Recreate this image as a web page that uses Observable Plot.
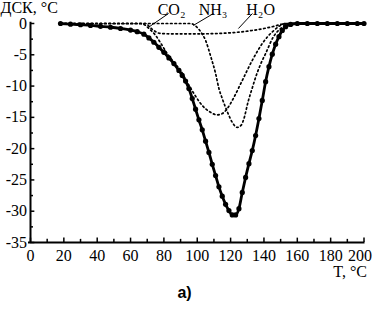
<!DOCTYPE html>
<html><head><meta charset="utf-8">
<script src="https://cdn.jsdelivr.net/npm/d3@7"></script>
<script src="https://cdn.jsdelivr.net/npm/@observablehq/plot@0.6"></script>
<style>body{margin:0;background:#fff}</style>
</head><body><div id="chart"></div>
<script>
// Measured DSC curve
const mainT   = [18,24,30,36,42,48,54,60,64,68,71,74,77,80,83,86,89,91,93,95,97,99,101,103,105,107,109,111,113,115,117,119,121,123,125,127,129,131,133,135,137,139,141,143,145,147,149,151,153,156,160,166,172,178,184,190,196,200];
const mainDSC = [0,-0.1,-0.2,-0.3,-0.45,-0.6,-0.8,-1.05,-1.3,-1.7,-2.3,-3.0,-3.8,-4.6,-5.5,-6.4,-7.5,-8.3,-9.2,-10.4,-12.0,-13.7,-15.4,-17.0,-18.8,-20.6,-22.5,-24.3,-26.1,-27.6,-28.9,-29.9,-30.6,-30.6,-29.6,-27.0,-24.6,-22.4,-20.3,-17.9,-15.2,-12.3,-9.3,-6.9,-4.9,-3.3,-2.1,-1.1,-0.5,-0.15,0,0,0,0,0,0,0,0];
// Components
const co2T   = [18,40,60,66,69,71,75,78,82,86,90,94,98,103,108,112,115,118,122,127,133,139,146,150,153,200];
const co2DSC = [0,0,0,0,-0.3,-0.8,-1.9,-3.1,-4.8,-6.2,-7.5,-9.4,-11.2,-13.1,-14.2,-14.6,-14.4,-13.6,-11.8,-9.1,-5.9,-3.2,-1.1,-0.3,0,0];
const nh3T   = [18,60,96,99,102,105,108,111,113,115,118.5,121,124,126.5,128,130.5,133,135,138,141,145.5,151,155,200];
const nh3DSC = [0,0,0,-0.4,-1.3,-2.7,-5.2,-8.0,-10.4,-12.0,-14.4,-15.8,-16.6,-16.2,-15.2,-12.5,-10.3,-8.6,-6.5,-4.8,-2.2,-0.6,0,0];
const h2oT   = [18,60,69,72,75,78,85,100,112,122,132,140,146,151,154,200];
const h2oDSC = [0,0,0,-0.7,-1.3,-1.6,-1.65,-1.65,-1.6,-1.45,-1.15,-0.8,-0.45,-0.1,0,0];
const componentNames = ["CO₂","NH₃","H₂O"];
// Axis ticks
const xTicksMajor = [0,20,40,60,80,100,120,140,160,180,200];
const xTicksMinor = [10,30,50,70,90,110,130,150,170,190];
const yTicksMajor = [0,-5,-10,-15,-20,-25,-30,-35];
const yTicksMinor = [-2.5,-7.5,-12.5,-17.5,-22.5,-27.5,-32.5];
const yTitle = "ДСК, °C";
const xTitle = "T, °C";
const caption = "а)";

const main = mainT.map((t,i)=>({T:t, v:mainDSC[i]}));
const comps = [
  ...co2T.map((t,i)=>({T:t, v:co2DSC[i], name:componentNames[0]})),
  ...nh3T.map((t,i)=>({T:t, v:nh3DSC[i], name:componentNames[1]})),
  ...h2oT.map((t,i)=>({T:t, v:h2oDSC[i], name:componentNames[2]}))
];
// annotation label anchors and pointers (data coords)
const labels = [
  {name:componentNames[0], T:84.6, v:2.2, T1:82.8, v1:1.6, T2:70.8, v2:-0.6},
  {name:componentNames[1], T:109.5, v:2.2, T1:109.7, v1:1.6, T2:97.7, v2:-0.3},
  {name:componentNames[2], T:138, v:2.2, T1:133.1, v1:1.6, T2:124.7, v2:-0.8}
];
const xLabelsInner = xTicksMajor.slice(0, -1);
const xLabelsLast = xTicksMajor.slice(-1);

const serif = "Liberation Serif, Times New Roman, serif";
const chart = Plot.plot({
  width: 378, height: 309,
  marginLeft: 30, marginRight: 14.5, marginTop: 0, marginBottom: 67,
  x: {domain: [0,200], axis: null},
  y: {domain: [-35, 3.676], axis: null},
  style: {fontFamily: serif, color: "black", background: "white"},
  marks: [
    Plot.ruleX([0], {y1: -35, y2: 0.2, stroke: "black", strokeWidth: 2}),
    Plot.ruleY([-35], {x1: -1.2, x2: 200.6, stroke: "black", strokeWidth: 2}),
    Plot.ruleY(yTicksMajor, {y: d=>d, x1: 0, x2: 2.6, stroke: "black", strokeWidth: 1.5}),
    Plot.ruleY(yTicksMinor, {y: d=>d, x1: 0, x2: 1.8, stroke: "black", strokeWidth: 1.5}),
    Plot.ruleX(xTicksMajor, {x: d=>d, y1: -35, y2: -34.3, stroke: "black", strokeWidth: 1.5}),
    Plot.ruleX(xTicksMinor, {x: d=>d, y1: -35, y2: -34.5, stroke: "black", strokeWidth: 1.5}),
    Plot.text(yTicksMajor, {x: 0, y: d=>d, dx: -3.5, textAnchor: "end", text: d=>String(d), fontSize: 16, fontFamily: serif, fill: "black"}),
    Plot.text(xLabelsInner, {x: d=>d, y: -35, dy: 13.5, text: d=>String(d), fontSize: 16, fontFamily: serif, fill: "black"}),
    Plot.text(xLabelsLast, {x: d=>d, y: -35, dy: 13.5, dx: -4, text: d=>String(d), fontSize: 16, fontFamily: serif, fill: "black"}),
    Plot.text([yTitle], {frameAnchor: "top-left", dx: -30, dy: 7.5, textAnchor: "start", lineAnchor: "middle", fontSize: 16, fontFamily: serif, fill: "black"}),
    Plot.text([xTitle], {frameAnchor: "bottom-right", dx: 3, dy: 29, textAnchor: "end", lineAnchor: "middle", fontSize: 16, fontFamily: serif, fill: "black"}),
    Plot.text([caption], {x: 92.4, y: -35, dy: 50, fontSize: 16, fontWeight: "bold", fontFamily: "Liberation Sans, Arial, sans-serif", fill: "black"}),
    Plot.line(comps, {x: "T", y: "v", z: "name", curve: "monotone-x", stroke: "black", strokeWidth: 1.7, strokeDasharray: "1.6,2.8"}),
    Plot.line(main, {x: "T", y: "v", curve: "monotone-x", stroke: "black", strokeWidth: 2.8}),
    Plot.dot(main, {x: "T", y: "v", r: 2.6, fill: "black"}),
    Plot.link(labels, {x1: "T1", y1: "v1", x2: "T2", y2: "v2", stroke: "black", strokeWidth: 1}),
    Plot.text(labels, {x: "T", y: "v", text: "name", fontSize: 16, fontFamily: serif, fill: "black"})
  ]
});
document.getElementById("chart").append(chart);
</script>
</body></html>
